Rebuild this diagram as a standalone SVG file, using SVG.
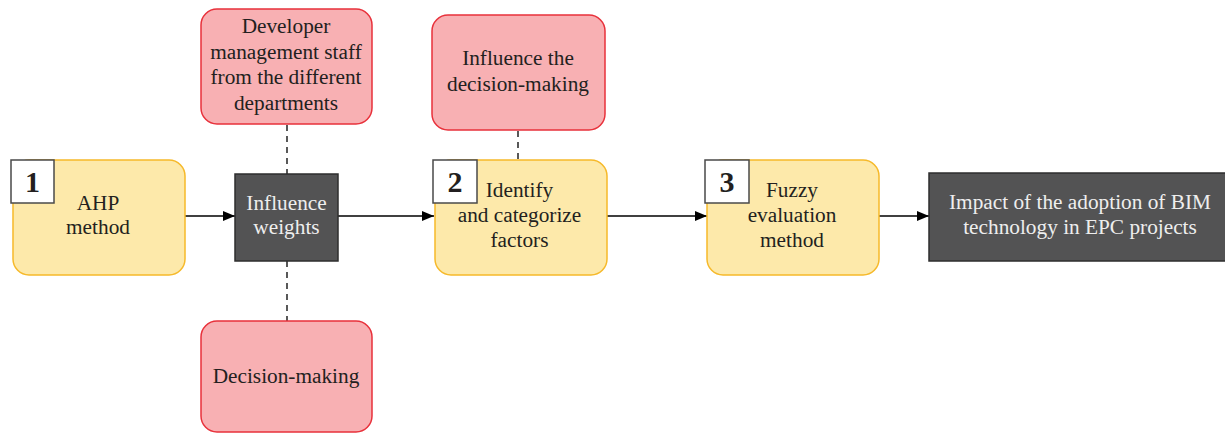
<svg xmlns="http://www.w3.org/2000/svg" width="1225" height="434" viewBox="0 0 1225 434">
<style>
.y{fill:#fde9aa;stroke:#f6b92a;stroke-width:1.5}
.p{fill:#f8b0b3;stroke:#e8313b;stroke-width:1.5}
.d{fill:#535354;stroke:#2e2e2e;stroke-width:1.5}
.n{fill:#fff;stroke:#4a4a4a;stroke-width:1.5}
text{font-family:"Liberation Serif","Times New Roman",serif;font-size:21.3px;text-anchor:middle;fill:#231f20}
.w{fill:#eeeeee}
.num{font-weight:bold;font-size:30px}
.c{stroke:#000;stroke-width:1.5;fill:none}
.ds{stroke:#000;stroke-width:1.3;stroke-dasharray:6,5;fill:none}
</style>
<defs>
<marker id="a" markerWidth="12" markerHeight="10" refX="12" refY="5" orient="auto" markerUnits="userSpaceOnUse">
<path d="M0,0 L12,5 L0,10 Z" fill="#000"/>
</marker>
</defs>
<g id="connectors">
<line class="c" x1="185" y1="216" x2="235" y2="216" marker-end="url(#a)"/>
<line class="c" x1="338" y1="216" x2="434" y2="216" marker-end="url(#a)"/>
<line class="c" x1="607" y1="216" x2="707" y2="216" marker-end="url(#a)"/>
<line class="c" x1="879" y1="216" x2="929" y2="216" marker-end="url(#a)"/>
<line class="ds" x1="287" y1="125" x2="287" y2="174"/>
<line class="ds" x1="287" y1="261" x2="287" y2="321"/>
<line class="ds" x1="518" y1="131" x2="518" y2="160"/>
</g>
<g id="node-dev">
<rect class="p" x="201" y="9" width="171" height="115" rx="16"/>
<text x="286" y="33">Developer</text>
<text x="286" y="59">management staff</text>
<text x="286" y="84">from the different</text>
<text x="286" y="110">departments</text>
</g>
<g id="node-infl-decision">
<rect class="p" x="432" y="15" width="173" height="115" rx="16"/>
<text x="518" y="65">Influence the</text>
<text x="518" y="91">decision-making</text>
</g>
<g id="node-decision">
<rect class="p" x="201" y="321" width="171" height="111" rx="16"/>
<text x="286" y="383">Decision-making</text>
</g>
<g id="node-ahp">
<rect class="y" x="13" y="160" width="172" height="115" rx="16"/>
<rect class="n" x="11" y="160" width="43" height="43"/>
<text class="num" x="32.5" y="192">1</text>
<text x="98" y="210">AHP</text>
<text x="98" y="234">method</text>
</g>
<g id="node-weights">
<rect class="d" x="235" y="174" width="103" height="87"/>
<text class="w" x="286.5" y="210">Influence</text>
<text class="w" x="286.5" y="234">weights</text>
</g>
<g id="node-identify">
<rect class="y" x="435" y="160" width="172" height="115" rx="16"/>
<rect class="n" x="433" y="160" width="44" height="43"/>
<text class="num" x="455" y="192">2</text>
<text x="519.5" y="197">Identify</text>
<text x="519.5" y="222">and categorize</text>
<text x="519.5" y="247">factors</text>
</g>
<g id="node-fuzzy">
<rect class="y" x="707" y="160" width="172" height="115" rx="16"/>
<rect class="n" x="705" y="160" width="44" height="43"/>
<text class="num" x="727" y="192">3</text>
<text x="792" y="197">Fuzzy</text>
<text x="792" y="222">evaluation</text>
<text x="792" y="247">method</text>
</g>
<g id="node-impact">
<rect class="d" x="929" y="173" width="300" height="88"/>
<text class="w" x="1080" y="209">Impact of the adoption of BIM</text>
<text class="w" x="1080" y="234">technology in EPC projects</text>
</g>
</svg>
